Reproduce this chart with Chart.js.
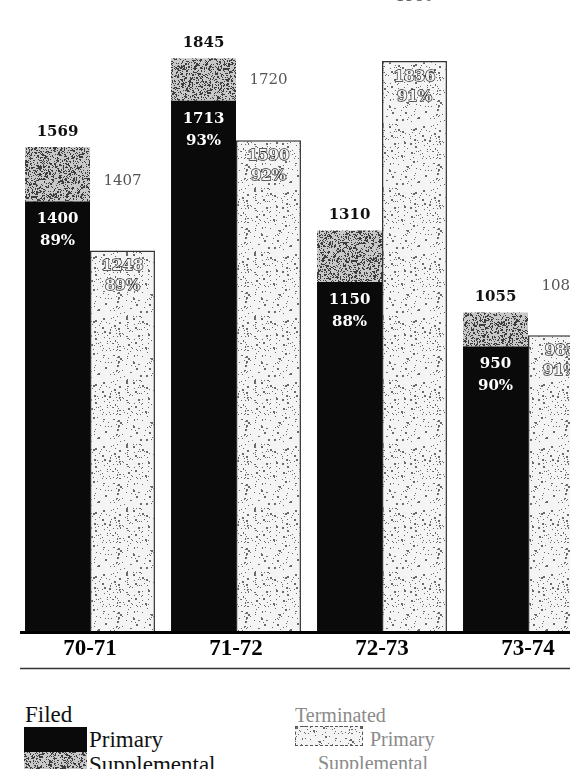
<!DOCTYPE html>
<html>
<head>
<meta charset="utf-8">
<title>Filed and Terminated</title>
<script src="https://cdn.jsdelivr.net/npm/chart.js@4.4.1/dist/chart.umd.min.js"></script>
<style>
  html, body { margin: 0; padding: 0; background: #fff; overflow: hidden; width: 570px; height: 769px; }
  #wrap { position: absolute; left: 0; top: -40px; width: 620px; height: 720px; }
  .lg { position: absolute; font-family: "Liberation Serif", serif; white-space: nowrap; line-height: 1; }
  .box { position: absolute; }
</style>
</head>
<body>
<div id="wrap"><canvas id="chart" width="620" height="720"></canvas></div>

<div class="lg" style="left:25px; top:703px; font-size:23px; color:#111;">Filed</div>
<div class="box" style="left:24px; top:727px; width:63px; height:25px; background:#0a0a0a;"></div>
<div class="lg" style="left:89px; top:728px; font-size:23px; color:#111;">Primary</div>
<div class="box" id="suppBox" style="left:24px; top:752px; width:63px; height:20px;"></div>
<div class="lg" style="left:89px; top:753px; font-size:23px; color:#111;">Supplemental</div>

<div class="lg" style="left:295px; top:705px; font-size:20px; color:#8a8a8a;">Terminated</div>
<div class="box" id="termBox" style="left:295px; top:726px; width:66px; height:18px; border:1px dashed #555;"></div>
<div class="lg" style="left:370px; top:729px; font-size:20px; color:#8a8a8a;">Primary</div>
<div class="lg" style="left:318px; top:753px; font-size:20px; color:#8a8a8a;">Supplemental</div>

<script>
// fiscal years and counts
const seasons = ['70-71', '71-72', '72-73', '73-74'];
const filedTotal = [1569, 1845, 1310, 1055];
const filedPrimary = [1400, 1713, 1150, 950];
const filedPct = [89, 93, 88, 90];
const termTotal = [1407, 1720, 1980, 1080];
const termPrimary = [1248, 1590, 1836, 985];
const termPct = [89, 92, 91, 91];

const filedSupp = filedTotal.map((t, i) => t - filedPrimary[i]);
const termSupp = termTotal.map((t, i) => t - termPrimary[i]);

// speckled fill, seeded so it is the same on every load
function stipple(base, dot, count, bigShare, seed) {
  const c = document.createElement('canvas');
  c.width = 64; c.height = 64;
  const g = c.getContext('2d');
  g.fillStyle = base;
  g.fillRect(0, 0, 64, 64);
  let s = seed;
  const rnd = () => { s = (s * 16807) % 2147483647; return s / 2147483647; };
  g.fillStyle = dot;
  for (let k = 0; k < count; k++) {
    const sz = rnd() < bigShare ? 2 : 1;
    g.fillRect(Math.floor(rnd() * 64), Math.floor(rnd() * 64), sz, sz);
  }
  return c;
}

const ctx = document.getElementById('chart').getContext('2d');
const grayTile = stipple('#c8c8c8', '#3c3c3c', 1300, 0.08, 7);
const lightTile = stipple('#f4f4f4', '#6a6a6a', 230, 0.12, 13);
const grayFill = ctx.createPattern(grayTile, 'repeat');
const lightFill = ctx.createPattern(lightTile, 'repeat');

document.getElementById('suppBox').style.background = 'url(' + grayTile.toDataURL() + ')';
document.getElementById('termBox').style.background = 'url(' + lightTile.toDataURL() + ')';

const barLabels = {
  id: 'barLabels',
  afterDatasetsDraw(chart) {
    const c = chart.ctx;
    const fp = chart.getDatasetMeta(0).data;
    const fs = chart.getDatasetMeta(1).data;
    const tp = chart.getDatasetMeta(2).data;
    const ts = chart.getDatasetMeta(3).data;
    c.save();
    c.textAlign = 'center';
    c.textBaseline = 'middle';
    seasons.forEach((s, i) => {
      // filed
      c.font = 'bold 15px "DejaVu Serif"';
      c.fillStyle = '#111';
      c.fillText(String(filedTotal[i]), fs[i].x, fs[i].y - 15);
      c.fillStyle = '#fff';
      c.fillText(String(filedPrimary[i]), fp[i].x, fp[i].y + 18);
      c.fillText(filedPct[i] + '%', fp[i].x, fp[i].y + 40);
      // terminated
      c.font = '15px "DejaVu Serif"';
      c.fillStyle = '#555';
      c.fillText(String(termTotal[i]), ts[i].x, ts[i].y - 18);
      c.font = 'bold 15px "DejaVu Serif"';
      c.lineWidth = 1.4;
      c.strokeStyle = '#2a2a2a';
      c.fillStyle = '#f4f4f4';
      c.strokeText(String(termPrimary[i]), tp[i].x, tp[i].y + 16);
      c.fillText(String(termPrimary[i]), tp[i].x, tp[i].y + 16);
      c.strokeText(termPct[i] + '%', tp[i].x, tp[i].y + 36);
      c.fillText(termPct[i] + '%', tp[i].x, tp[i].y + 36);
    });
    c.restore();
  },
  afterDraw(chart) {
    const c = chart.ctx;
    const a = chart.chartArea;
    c.save();
    c.strokeStyle = '#000';
    c.lineWidth = 3;
    c.beginPath();
    c.moveTo(20, a.bottom + 1);
    c.lineTo(chart.width, a.bottom + 1);
    c.stroke();
    c.strokeStyle = '#333';
    c.lineWidth = 1.5;
    c.beginPath();
    c.moveTo(20, a.bottom + 37);
    c.lineTo(chart.width, a.bottom + 37);
    c.stroke();
    c.restore();
  }
};

new Chart(ctx, {
  type: 'bar',
  data: {
    labels: seasons,
    datasets: [
      { label: 'Filed Primary', data: filedPrimary, stack: 'filed', backgroundColor: '#0a0a0a' },
      { label: 'Filed Supplemental', data: filedSupp, stack: 'filed', backgroundColor: grayFill },
      {
        label: 'Terminated Primary', data: termPrimary, stack: 'term', backgroundColor: lightFill,
        borderColor: '#333', borderWidth: { left: 1.5, right: 1.5, top: 1.5, bottom: 0 }, borderSkipped: 'start'
      },
      { label: 'Terminated Supplemental', data: termSupp, stack: 'term', backgroundColor: 'rgba(255,255,255,0)' }
    ]
  },
  options: {
    responsive: false,
    animation: false,
    devicePixelRatio: 1,
    layout: { padding: { left: 17, right: 19, top: 0, bottom: 13 } },
    datasets: { bar: { categoryPercentage: 0.89, barPercentage: 1.0 } },
    plugins: { legend: { display: false }, tooltip: { enabled: false } },
    scales: {
      x: {
        stacked: true,
        grid: { display: false, drawTicks: false },
        border: { display: false },
        ticks: { color: '#000', padding: 4, font: { family: 'Liberation Serif', weight: 'bold', size: 23 } }
      },
      y: { stacked: true, display: false, min: 65, max: 2150 }
    }
  },
  plugins: [barLabels]
});
</script>
</body>
</html>
